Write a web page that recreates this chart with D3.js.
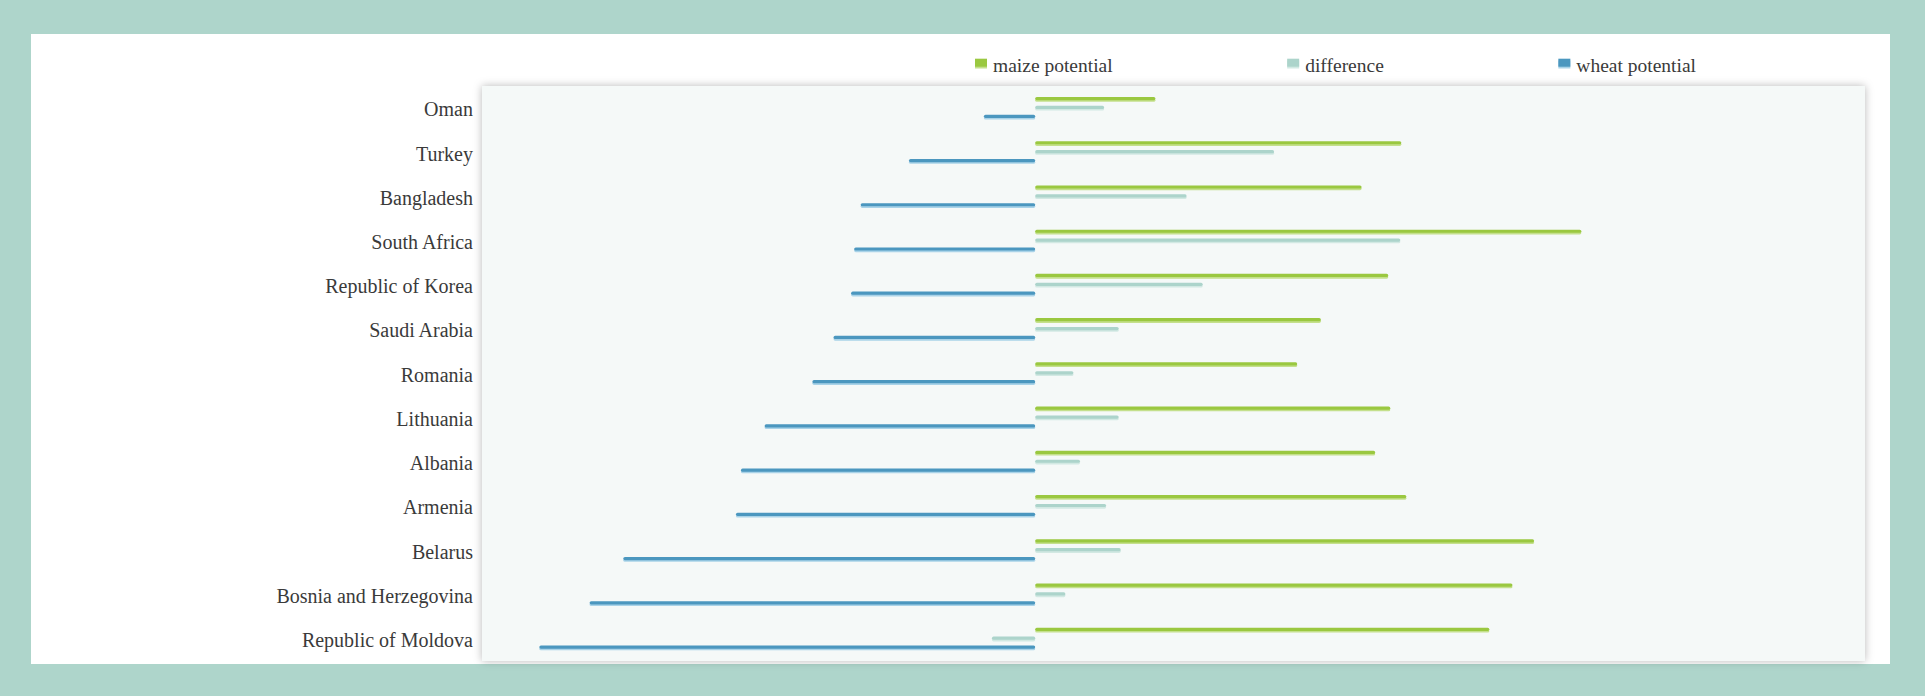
<!DOCTYPE html>
<html>
<head>
<meta charset="utf-8">
<script src="https://cdn.jsdelivr.net/npm/d3@7"></script>
<style>
  html, body { margin: 0; padding: 0; background: #aed5cb; }
  svg { display: block; }
  text { font-family: "Liberation Serif", "Times New Roman", serif; fill: #3a3a3a; }
</style>
</head>
<body>
<svg id="chart" width="1925" height="696"></svg>
<script>
// ---- data ----
const countries = ["Oman", "Turkey", "Bangladesh", "South Africa", "Republic of Korea",
  "Saudi Arabia", "Romania", "Lithuania", "Albania", "Armenia", "Belarus",
  "Bosnia and Herzegovina", "Republic of Moldova"];
const maizePotential = [2.39, 7.28, 6.49, 10.86, 7.02, 5.68, 5.21, 7.06, 6.76, 7.38, 9.92, 9.49, 9.03];
const difference     = [1.37, 4.75, 3.01, 7.26, 3.33, 1.66, 0.76, 1.66, 0.89, 1.41, 1.70, 0.60, -0.86];
const wheatPotential = [1.02, 2.51, 3.47, 3.60, 3.66, 4.01, 4.43, 5.38, 5.85, 5.95, 8.19, 8.86, 9.86];
const seriesNames = ["maize potential", "difference", "wheat potential"];
const seriesColors = ["#9ac840", "#acd4cb", "#4b97bf"];
const seriesShade  = ["#c4e08c", "#d2e9e3", "#a9d3e8"];
const xDomain = [-11, 16.5];

// ---- layout ----
const W = 1925, H = 696;
const panel = {x: 31, y: 34, w: 1859, h: 630};
const plot = {x: 482, y: 86, w: 1383, h: 575};

const svg = d3.select("#chart");
const defs = svg.append("defs");
const f = defs.append("filter").attr("id", "shadow")
  .attr("x", "-5%").attr("y", "-5%").attr("width", "110%").attr("height", "110%");
f.append("feDropShadow").attr("dx", 0).attr("dy", 0).attr("stdDeviation", 4)
  .attr("flood-color", "#000").attr("flood-opacity", 0.28);

svg.append("rect").attr("width", W).attr("height", H).attr("fill", "#aed5cb");
svg.append("rect").attr("x", panel.x).attr("y", panel.y).attr("width", panel.w).attr("height", panel.h).attr("fill", "#ffffff");
svg.append("rect").attr("x", plot.x).attr("y", plot.y).attr("width", plot.w).attr("height", plot.h)
  .attr("fill", "#f5f9f8").attr("filter", "url(#shadow)");

// ---- scales ----
const x = d3.scaleLinear().domain(xDomain).range([plot.x, plot.x + plot.w]);
const y = d3.scaleBand().domain(countries).range([plot.y - 0.4, plot.y + plot.h - 0.4]).padding(0);
const ySub = d3.scaleBand().domain(seriesNames).range([0, y.bandwidth()])
  .paddingInner(0.58).paddingOuter(1.28);

const rows = countries.map((c, i) => ({
  country: c,
  values: [maizePotential[i], difference[i], -wheatPotential[i]]
}));

// ---- bars ----
const barH = 3.2;
const g = svg.append("g");
const rowG = g.selectAll("g.row").data(rows).join("g").attr("class", "row")
  .attr("transform", d => `translate(0,${y(d.country)})`);

rowG.each(function(d) {
  const sel = d3.select(this);
  const items = d.values.map((v, k) => ({v, k, name: seriesNames[k]}));
  const cy = k => ySub(seriesNames[k]) + ySub.bandwidth() / 2;
  // light underline (shade)
  sel.selectAll("rect.shade").data(items).join("rect").attr("class", "shade")
    .attr("x", e => Math.min(x(0), x(e.v)))
    .attr("width", e => Math.abs(x(e.v) - x(0)))
    .attr("y", e => cy(e.k) - barH / 2 + 1.3)
    .attr("height", barH)
    .attr("rx", 1.6)
    .attr("fill", e => seriesShade[e.k]);
  sel.selectAll("rect.bar").data(items).join("rect").attr("class", "bar")
    .attr("x", e => Math.min(x(0), x(e.v)))
    .attr("width", e => Math.abs(x(e.v) - x(0)))
    .attr("y", e => cy(e.k) - barH / 2 - 0.3)
    .attr("height", barH)
    .attr("rx", 1.6)
    .attr("fill", e => seriesColors[e.k]);
});

// ---- category labels ----
g.selectAll("text.label").data(countries).join("text").attr("class", "label")
  .attr("x", plot.x - 9)
  .attr("y", c => y(c) + y.bandwidth() / 2 + 8.6)
  .attr("text-anchor", "end")
  .style("font-size", "20px")
  .text(c => c);

// ---- legend ----
const legend = svg.append("g");
let lx = 975;
seriesNames.forEach((name, k) => {
  legend.append("rect").attr("x", lx).attr("y", 60.5).attr("width", 12).attr("height", 8)
    .attr("fill", seriesShade[k]);
  legend.append("rect").attr("x", lx).attr("y", 58.7).attr("width", 12).attr("height", 8)
    .attr("fill", seriesColors[k]);
  const t = legend.append("text").attr("x", lx + 18).attr("y", 72)
    .style("font-size", "19.5px").text(name);
  const w = t.node().getComputedTextLength();
  lx = lx + 18 + w + 174.5;
});
</script>
</body>
</html>
